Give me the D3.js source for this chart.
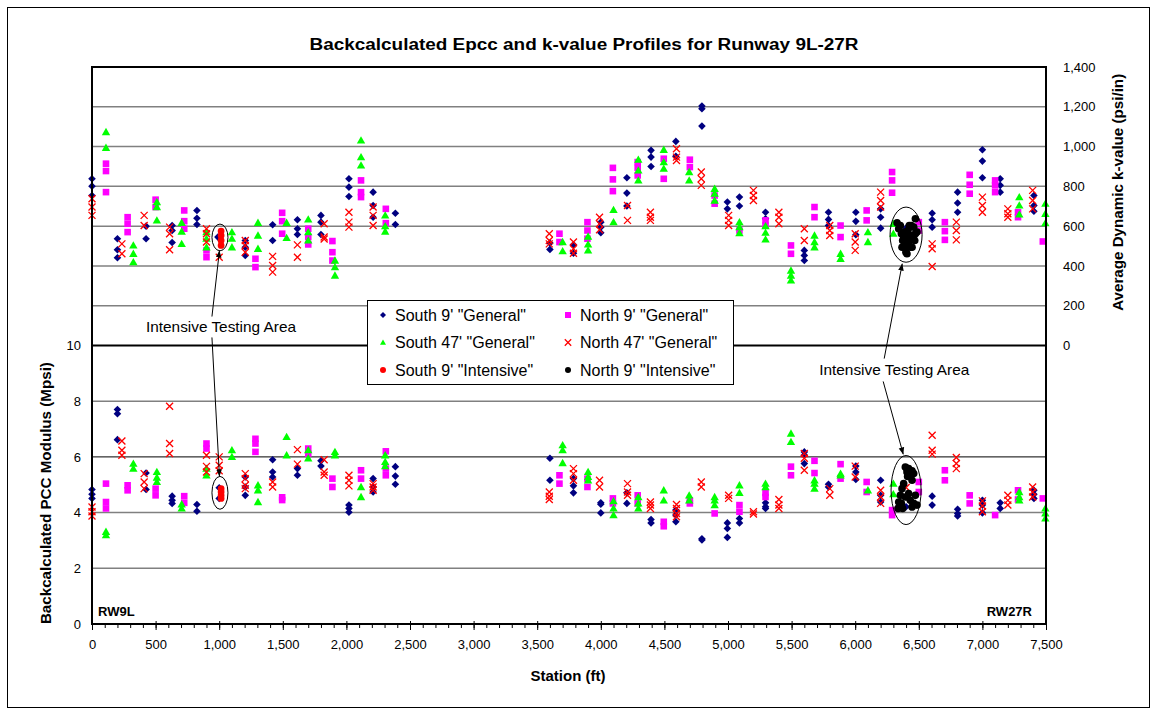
<!DOCTYPE html>
<html>
<head>
<meta charset="utf-8">
<script src="https://cdn.jsdelivr.net/npm/d3@7"></script>
<style>
  body { margin: 0; background: #fff; }
  svg { display: block; font-family: "Liberation Sans", Arial, sans-serif; }
</style>
</head>
<body>
<svg id="chart" width="1153" height="712"></svg>
<script>
// ---------------- Data ----------------
// Tick labels
const stationTicks = d3.range(0, 7501, 500);
const stationMinorTicks = d3.range(0, 7501, 100);
const modulusTicks = [0, 2, 4, 6, 8, 10];
const kTicks = [0, 200, 400, 600, 800, 1000, 1200, 1400];
const modulusGrid = [2, 4, 6, 8];
const kGrid = [200, 400, 600, 800, 1000, 1200];

// [station (ft), k-value (psi/in)]
const south9GenK = [[0,838],[0,801],[0,754],[200,537],[200,481],[200,441],[425,600],[425,537],
  [630,603],[630,578],[630,518],[825,679],[825,640],[825,608],[990,545],[1205,528],[1205,494],[1205,453],
  [1420,607],[1420,528],[1615,632],[1615,587],[1615,558],[1800,654],[1800,620],[1800,558],
  [2020,838],[2020,796],[2020,749],[2210,771],[2210,704],[2210,645],[2385,665],[2385,608],
  [3600,515],[3600,483],[3785,506],[3785,464],[4000,620],[4000,595],[4000,567],
  [4205,843],[4205,766],[4205,701],[4395,981],[4395,947],[4395,900],[4590,1026],[4590,951],
  [4795,1204],[4795,1190],[4795,1103],[4995,721],[4995,687],[5090,746],[5090,701],
  [5295,670],[5295,637],[5600,478],[5600,453],[5600,427],[5790,670],[5790,634],[5790,603],
  [6005,670],[6005,624],[6005,557],[6200,687],[6200,645],[6200,590],[6400,590],[6400,540],
  [6605,665],[6605,632],[6605,595],[6805,771],[6805,716],[6805,670],[7000,984],[7000,927],[7000,843],
  [7140,838],[7140,805],[7140,771],[7405,754],[7405,704],[7405,675]];
const north9GenK = [[110,914],[110,877],[110,771],[280,645],[280,612],[280,570],[500,733],[500,696],
  [725,679],[725,625],[725,587],[900,478],[900,444],[1285,436],[1285,394],
  [1495,667],[1495,625],[1495,562],[1700,587],[1700,545],[1700,508],[1890,525],[1890,469],[1890,427],
  [2115,830],[2115,771],[2115,746],[2310,687],[2310,615],[3675,562],[3675,520],
  [3895,620],[3895,578],[3895,537],[4095,893],[4095,835],[4095,776],[4290,922],[4290,893],[4290,855],
  [4495,939],[4495,838],[4700,934],[4700,897],[4895,754],[4895,713],[5090,578],
  [5295,629],[5295,603],[5495,503],[5495,461],[5680,696],[5680,645],[5885,603],[5885,545],
  [6090,679],[6090,629],[6290,872],[6290,830],[6290,768],[6500,620],[6500,578],
  [6705,620],[6705,575],[6705,531],[6900,858],[6900,808],[6900,763],[7100,830],[7100,805],[7100,771],
  [7280,670],[7280,645],[7475,523]];
const south47GenK = [[110,1073],[110,994],[325,503],[325,461],[325,419],[510,721],[510,696],[510,629],
  [705,617],[705,573],[705,511],[900,570],[900,537],[900,494],[1100,570],[1100,537],[1100,494],
  [1305,617],[1305,553],[1305,486],[1530,617],[1530,541],[1700,634],[1700,570],[1700,528],
  [1910,427],[1910,394],[1910,352],[2115,1031],[2115,947],[2115,905],[2305,654],[2305,600],[2305,573],
  [3700,520],[3700,474],[3900,548],[3900,508],[3900,478],[4100,682],[4100,620],
  [4295,934],[4295,880],[4295,830],[4495,984],[4495,922],[4495,889],[4695,872],[4695,830],
  [4895,788],[4895,763],[4895,729],[5090,620],[5090,595],[5090,565],[5295,600],[5295,567],[5295,533],
  [5495,377],[5495,352],[5495,327],[5680,553],[5680,520],[5680,494],[5885,461],[5885,436],
  [6100,570],[6100,520],[6300,612],[6300,562],[7290,746],[7290,704],[7290,659],
  [7495,713],[7495,662],[7495,615]];
const north47GenK = [[0,738],[0,696],[0,654],[235,511],[235,461],[410,654],[410,603],
  [610,595],[610,562],[610,481],[900,587],[900,562],[900,520],[1000,444],
  [1205,528],[1205,503],[1205,469],[1420,448],[1420,402],[1420,369],[1615,506],[1615,444],
  [1825,612],[1825,545],[1825,535],[2020,670],[2020,620],[2020,595],[2210,696],[2210,654],[2210,603],
  [3595,562],[3595,528],[3595,511],[3785,520],[3785,486],[3785,464],[3990,645],[3990,612],[3990,582],
  [4210,704],[4210,629],[4390,670],[4390,645],[4390,629],[4595,989],[4595,947],[4595,930],
  [4790,872],[4790,838],[4790,805],[5005,654],[5005,629],[5005,603],[5200,780],[5200,754],[5200,729],
  [5400,670],[5400,645],[5400,612],[5600,587],[5600,528],[5800,603],[5800,578],[5800,553],
  [6000,562],[6000,520],[6000,478],[6200,771],[6200,729],[6200,696],[6400,540],
  [6605,511],[6605,486],[6605,397],[6795,620],[6795,578],[6795,531],[7000,746],[7000,704],[7000,670],
  [7200,687],[7200,662],[7200,645],[7395,780],[7395,729],[7395,687]];
const south9IntK = [[1015,575],[1015,553],[1015,528],[1015,503]];
const north9IntK = [[6329,617],[6342,587],[6355,603],[6363,562],[6373,528],[6381,545],[6389,503],
  [6394,520],[6394,486],[6399,469],[6407,461],[6415,578],[6420,503],[6425,603],[6433,528],
  [6441,603],[6447,553],[6447,494],[6460,595],[6468,528],[6473,637],[6473,562],[6486,570],
  [6368,494],[6407,545],[6433,494],[6460,553],[6389,570]];

// [station (ft), Epcc (Mpsi)]
const south9GenE = [[0,4.83],[0,4.66],[0,4.51],[200,7.70],[200,7.55],[200,6.62],[425,5.42],[425,4.83],
  [630,4.59],[630,4.44],[630,4.33],[825,4.29],[825,4.05],[1000,4.89],[1000,4.51],
  [1205,5.28],[1205,4.92],[1205,4.62],[1420,5.90],[1420,5.46],[1420,5.28],[1615,5.58],[1615,5.34],
  [1800,5.86],[1800,5.67],[2020,4.27],[2020,4.15],[2020,4.01],[2210,5.22],[2210,4.92],[2210,4.74],
  [2385,5.65],[2385,5.31],[2385,5.02],[3600,5.95],[3600,5.16],[3785,5.22],[3785,4.96],[3785,4.71],
  [4000,4.35],[4000,4.30],[4000,3.99],[4205,4.71],[4205,4.33],[4395,3.75],[4395,3.63],
  [4590,4.09],[4590,3.91],[4590,3.67],[4795,3.06],[4795,3.02],[4995,3.63],[4995,3.43],[4995,3.11],
  [5090,3.79],[5090,3.63],[5295,4.35],[5295,4.21],[5295,4.15],[5600,6.18],[5600,6.06],[5600,5.76],
  [5790,5.02],[5790,4.92],[6005,5.67],[6005,5.46],[6005,5.19],[6200,5.16],[6200,4.62],[6200,4.38],
  [6400,4.56],[6400,4.21],[6605,4.59],[6605,4.27],[6805,4.12],[6805,3.97],[6805,3.88],
  [7000,4.44],[7000,4.27],[7000,3.99],[7140,4.35],[7140,4.15],[7405,4.80],[7405,4.66],[7405,4.51]];
const north9GenE = [[110,5.04],[110,4.38],[110,4.15],[280,4.98],[280,4.80],[500,4.86],[500,4.62],
  [725,4.59],[725,4.35],[900,6.48],[900,6.30],[1285,6.65],[1285,6.48],[1285,6.18],
  [1495,4.55],[1495,4.45],[1700,6.30],[1700,6.12],[1890,5.22],[1890,4.92],[2115,5.52],[2115,5.22],
  [2310,6.20],[2310,5.58],[2310,5.34],[3675,5.34],[3675,5.04],[3895,5.22],[3895,4.92],
  [4095,4.51],[4095,4.33],[4290,4.62],[4290,4.33],[4495,3.67],[4495,3.51],[4700,4.44],[4700,4.33],
  [4895,3.97],[5090,4.27],[5090,4.03],[5295,4.71],[5295,4.56],[5495,5.65],[5495,5.34],
  [5680,5.86],[5680,5.42],[5885,5.74],[5885,5.22],[6090,5.10],[6090,4.74],[6290,4.09],[6290,3.91],
  [6500,5.10],[6500,4.74],[6705,5.52],[6705,5.16],[6900,4.62],[6900,4.33],[7100,3.91],
  [7280,4.80],[7280,4.47],[7475,4.51]];
const south47GenE = [[110,3.31],[110,3.19],[325,5.76],[325,5.58],[510,5.46],[510,5.26],[510,5.10],
  [705,4.30],[705,4.15],[900,5.58],[900,5.34],[1100,6.24],[1100,6.00],
  [1305,4.98],[1305,4.80],[1305,4.38],[1530,6.72],[1530,6.06],[1700,6.24],[1700,5.95],
  [1910,6.18],[1910,6.06],[2115,4.92],[2115,4.56],[2305,6.06],[2305,5.82],[2305,5.67],
  [3700,6.42],[3700,6.24],[3700,5.78],[3900,5.46],[3900,5.28],[3900,5.16],
  [4100,4.41],[4100,4.15],[4100,3.91],[4295,4.56],[4295,4.33],[4295,4.15],[4495,4.80],[4495,4.44],
  [4695,4.62],[4695,4.44],[4895,4.56],[4895,4.44],[4895,4.27],[5090,4.98],[5090,4.71],
  [5295,5.04],[5295,4.92],[5495,6.84],[5495,6.54],[5680,5.16],[5680,5.04],[5680,4.86],
  [5885,5.40],[5885,5.34],[6100,4.80],[6300,5.04],[6300,4.66],
  [7290,4.74],[7290,4.56],[7290,4.44],[7495,4.15],[7495,3.97],[7495,3.79]];
const north47GenE = [[0,4.20],[0,4.03],[0,3.88],[235,6.57],[235,6.24],[235,6.06],
  [410,5.40],[410,5.10],[410,4.86],[610,7.82],[610,6.48],[610,6.12],[900,6.06],[900,5.66],[900,5.46],
  [1000,6.00],[1000,5.70],[1000,5.50],[1205,5.40],[1205,5.22],[1205,4.98],[1205,4.86],
  [1420,5.10],[1420,4.92],[1615,6.26],[1615,5.74],[1825,5.90],[1825,5.46],[1825,5.34],
  [2020,5.34],[2020,5.16],[2020,4.96],[2210,5.04],[2210,4.92],[2210,4.80],
  [3595,4.74],[3595,4.59],[3595,4.47],[3785,5.58],[3785,5.40],[3785,5.16],[3990,5.16],[3990,4.92],
  [4210,5.04],[4210,4.74],[4210,4.62],[4390,4.38],[4390,4.27],[4390,4.15],
  [4595,4.29],[4595,4.15],[4595,3.97],[4595,3.85],[4790,5.10],[4790,4.92],[5005,4.62],[5005,4.51],
  [5200,4.03],[5200,3.95],[5400,4.47],[5400,4.27],[5400,4.15],[5600,6.12],[5600,5.95],[5600,5.52],
  [5800,4.86],[5800,4.62],[6000,5.67],[6000,5.28],[6200,4.80],[6200,4.56],[6200,4.33],[6400,4.90],
  [6605,6.78],[6605,6.24],[6605,6.10],[6795,5.98],[6795,5.76],[6795,5.58],
  [7000,4.42],[7000,4.24],[7000,4.03],[7200,4.62],[7200,4.44],[7200,4.27],
  [7395,4.92],[7395,4.74],[7395,4.56]];
const south9IntE = [[1015,4.86],[1015,4.74],[1015,4.62],[1015,4.51]];
const north9IntE = [[6337,4.15],[6342,4.38],[6355,4.62],[6363,4.33],[6368,4.86],[6381,5.04],
  [6394,4.56],[6394,5.64],[6407,5.46],[6420,5.58],[6420,4.68],[6433,5.34],[6433,4.44],
  [6447,5.50],[6447,4.20],[6460,5.40],[6460,4.33],[6473,4.62],[6486,4.27],[6373,4.15],
  [6447,5.16],[6403,5.60],[6412,5.30]];

// Callouts: text anchor, arrow ends and ellipses in [station, Mpsi] units
const calloutLabel = "Intensive Testing Area";
const calloutTexts = [[1014, 10.68], [6307, 9.14]];
const calloutArrows = [
  [[943, 11.04], [1002, 13.41]],
  [[943, 10.29], [1002, 5.30]],
  [[6228, 9.53], [6370, 12.94]],
  [[6220, 8.71], [6378, 6.09]]
];
// [station, Mpsi, station half-width, Mpsi half-height]
const calloutEllipses = [
  [1006, 13.88, 63, 0.48],
  [1006, 4.71, 63, 0.59],
  [6400, 13.98, 126, 0.99],
  [6400, 4.81, 118, 1.24]
];

// ---------------- Chart ----------------
const svg = d3.select("#chart");
const plot = { left: 92, right: 1046, top: 67, bottom: 624 };

const x = d3.scaleLinear().domain([0, 7500]).range([plot.left, plot.right]);
const yE = d3.scaleLinear().domain([0, 20]).range([plot.bottom, plot.top]);
const yK = d3.scaleLinear().domain([-1400, 1400]).range([plot.bottom, plot.top]);

const series = [
  { name: 'South 9\' "General"',    shape: "diamond",  color: "#000080", size: 3.8, k: south9GenK,  e: south9GenE },
  { name: 'North 9\' "General"',    shape: "square",   color: "#FF00FF", size: 3.3, k: north9GenK,  e: north9GenE },
  { name: 'South 47\' "General"',   shape: "triangle", color: "#00FF00", size: 4.2, k: south47GenK, e: south47GenE },
  { name: 'North 47\' "General"',   shape: "cross",    color: "#FF0000", size: 3.5, k: north47GenK, e: north47GenE },
  { name: 'South 9\' "Intensive"',  shape: "circle",   color: "#FF0000", size: 3.4, k: south9IntK,  e: south9IntE },
  { name: 'North 9\' "Intensive"',  shape: "circle",   color: "#000000", size: 3.8, k: north9IntK,  e: north9IntE }
];

function shapePath(shape, s) {
  switch (shape) {
    case "diamond":  return `M0,${-s}L${s},0L0,${s}L${-s},0Z`;
    case "square":   return `M${-s},${-s}h${2 * s}v${2 * s}h${-2 * s}Z`;
    case "triangle": return `M0,${-s}L${s},${s * 0.75}L${-s},${s * 0.75}Z`;
    case "cross":    return `M${-s},${-s}L${s},${s}M${s},${-s}L${-s},${s}`;
    default:         return d3.symbol(d3.symbolCircle, Math.PI * s * s)();
  }
}
function styleMarker(sel, sr) {
  if (sr.shape === "cross") {
    sel.attr("fill", "none").attr("stroke", sr.color).attr("stroke-width", 1.3);
  } else {
    sel.attr("fill", sr.color).attr("stroke", "none");
  }
}

// Chart frame
svg.append("rect")
  .attr("x", 7.5).attr("y", 7.5).attr("width", 1142).attr("height", 700)
  .attr("fill", "#fff").attr("stroke", "#000").attr("stroke-width", 1);

// Gridlines: k-values in upper half, modulus in lower half
svg.append("g").selectAll("line").data(kGrid).join("line")
  .attr("x1", plot.left).attr("x2", plot.right)
  .attr("y1", d => yK(d)).attr("y2", d => yK(d))
  .attr("stroke", "#808080").attr("stroke-width", 1.5);
svg.append("g").selectAll("line").data(modulusGrid).join("line")
  .attr("x1", plot.left).attr("x2", plot.right)
  .attr("y1", d => yE(d)).attr("y2", d => yE(d))
  .attr("stroke", d => d === 6 ? "#000" : "#808080").attr("stroke-width", d => d === 6 ? 1 : 1.5);

// Divider between the two profiles
svg.append("line")
  .attr("x1", plot.left).attr("x2", plot.right)
  .attr("y1", yE(10)).attr("y2", yE(10))
  .attr("stroke", "#000").attr("stroke-width", 2);

// Markers: k-values and moduli for each series
const marks = svg.append("g");
series.forEach(sr => {
  const pts = sr.k.map(d => [x(d[0]), yK(d[1])]).concat(sr.e.map(d => [x(d[0]), yE(d[1])]));
  marks.append("g").selectAll("path").data(pts).join("path")
    .attr("d", shapePath(sr.shape, sr.size))
    .attr("transform", d => `translate(${d[0]},${d[1]})`)
    .call(styleMarker, sr);
});

// Plot border
svg.append("rect")
  .attr("x", plot.left).attr("y", plot.top)
  .attr("width", plot.right - plot.left).attr("height", plot.bottom - plot.top)
  .attr("fill", "none").attr("stroke", "#000").attr("stroke-width", 2);

// Axes
const tickFont = g => g.selectAll("text").attr("font-size", 13).attr("fill", "#000")
  .attr("font-family", "'Liberation Sans', Arial, sans-serif");

const xMinor = svg.append("g").attr("transform", `translate(0,${plot.bottom})`)
  .call(d3.axisBottom(x).tickValues(stationMinorTicks).tickFormat("").tickSize(4).tickSizeOuter(0));
xMinor.select(".domain").remove();
xMinor.selectAll("line").attr("stroke", "#000");

const xAxis = svg.append("g").attr("transform", `translate(0,${plot.bottom})`)
  .call(d3.axisBottom(x).tickValues(stationTicks).tickFormat(d3.format(",")).tickSize(6).tickSizeOuter(0).tickPadding(10));
xAxis.select(".domain").remove();
xAxis.selectAll("line").attr("stroke", "#000").attr("y1", -3);
xAxis.call(tickFont);

const yLeft = svg.append("g").attr("transform", `translate(${plot.left},0)`)
  .call(d3.axisLeft(yE).tickValues(modulusTicks).tickSize(0).tickPadding(11));
yLeft.select(".domain").remove();
yLeft.call(tickFont);

const yRight = svg.append("g").attr("transform", `translate(${plot.right},0)`)
  .call(d3.axisRight(yK).tickValues(kTicks).tickFormat(d3.format(",")).tickSize(0).tickPadding(17));
yRight.select(".domain").remove();
yRight.call(tickFont);

// Titles
svg.append("text").attr("x", 584).attr("y", 50).attr("text-anchor", "middle")
  .attr("font-size", 16).attr("font-weight", "bold")
  .attr("textLength", 549).attr("lengthAdjust", "spacingAndGlyphs")
  .text("Backcalculated Epcc and k-value Profiles for Runway 9L-27R");
svg.append("text").attr("x", 568).attr("y", 681).attr("text-anchor", "middle")
  .attr("font-size", 14).attr("font-weight", "bold")
  .attr("textLength", 75).attr("lengthAdjust", "spacingAndGlyphs").text("Station (ft)");
svg.append("text").attr("transform", `translate(51,${yE(4.7)}) rotate(-90)`).attr("text-anchor", "middle")
  .attr("font-size", 14).attr("font-weight", "bold")
  .attr("textLength", 262).attr("lengthAdjust", "spacingAndGlyphs").text("Backcalculated PCC Modulus (Mpsi)");
svg.append("text").attr("transform", `translate(1123,${yK(770)}) rotate(-90)`).attr("text-anchor", "middle")
  .attr("font-size", 14).attr("font-weight", "bold")
  .attr("textLength", 237).attr("lengthAdjust", "spacingAndGlyphs").text("Average Dynamic k-value (psi/in)");

// Runway end labels
svg.append("text").attr("x", 98).attr("y", 616).attr("font-size", 13).attr("font-weight", "bold").text("RW9L");
svg.append("text").attr("x", 1032).attr("y", 616).attr("text-anchor", "end")
  .attr("font-size", 13).attr("font-weight", "bold").text("RW27R");

// Callouts for the intensive testing areas
const defs = svg.append("defs");
defs.append("marker").attr("id", "arrowhead").attr("viewBox", "0 0 10 10")
  .attr("refX", 10).attr("refY", 5).attr("markerWidth", 7).attr("markerHeight", 7)
  .attr("orient", "auto-start-reverse")
  .append("path").attr("d", "M0,1L10,5L0,9Z").attr("fill", "#000");

const callouts = svg.append("g");
callouts.selectAll("ellipse").data(calloutEllipses).join("ellipse")
  .attr("cx", d => x(d[0])).attr("cy", d => yE(d[1]))
  .attr("rx", d => x(d[0] + d[2]) - x(d[0])).attr("ry", d => yE(d[1] - d[3]) - yE(d[1]))
  .attr("fill", "none").attr("stroke", "#000").attr("stroke-width", 1);
callouts.selectAll("line").data(calloutArrows).join("line")
  .attr("x1", d => x(d[0][0])).attr("y1", d => yE(d[0][1]))
  .attr("x2", d => x(d[1][0])).attr("y2", d => yE(d[1][1]))
  .attr("stroke", "#000").attr("stroke-width", 1).attr("marker-end", "url(#arrowhead)");
callouts.selectAll("text").data(calloutTexts).join("text")
  .attr("x", d => x(d[0])).attr("y", d => yE(d[1])).attr("dy", "0.35em")
  .attr("text-anchor", "middle").attr("font-size", 14.5)
  .attr("textLength", 150).attr("lengthAdjust", "spacingAndGlyphs")
  .text(calloutLabel);

// Legend
const legend = svg.append("g").attr("transform", "translate(367,300)");
legend.append("rect").attr("x", 0.5).attr("y", 0.5).attr("width", 366).attr("height", 84)
  .attr("fill", "#fff").attr("stroke", "#000").attr("stroke-width", 1);
series.forEach((sr, i) => {
  const col = i % 2, row = Math.floor(i / 2);
  const gx = col === 0 ? 16 : 201, gy = 15 + row * 27.5;
  legend.append("path").attr("d", shapePath(sr.shape, sr.shape === "cross" ? 3.2 : 3))
    .attr("transform", `translate(${gx},${gy})`).call(styleMarker, sr);
  legend.append("text").attr("x", gx + 12).attr("y", gy).attr("dy", "0.36em")
    .attr("font-size", 16).text(sr.name);
});
</script>
</body>
</html>
